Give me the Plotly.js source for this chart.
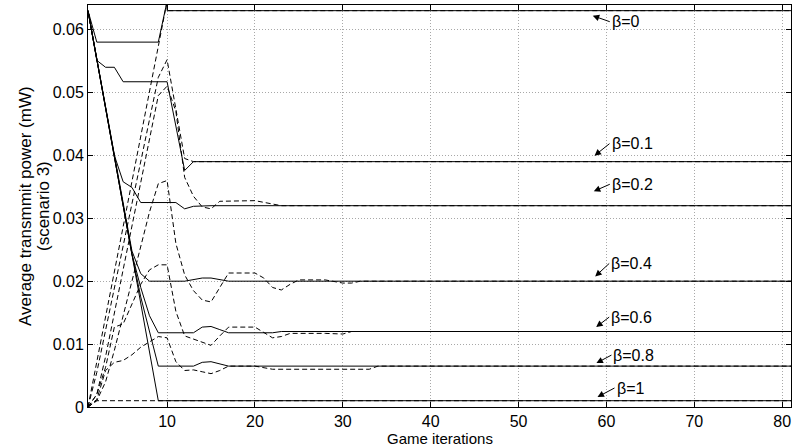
<!DOCTYPE html>
<html>
<head>
<meta charset="utf-8">
<script src="https://cdn.plot.ly/plotly-3.0.1.min.js"></script>
<style>html,body{margin:0;padding:0;background:#fff;}#chart{width:794px;height:448px;}</style>
</head>
<body>
<div id="chart"></div>
<script>
// ---- Data (Game iterations vs. average transmit power, mW) ----
const betaLabels = ['β=0', 'β=0.1', 'β=0.2', 'β=0.4', 'β=0.6', 'β=0.8', 'β=1'];

// Solid curves
const iterS0 = [1, 2, 9, 10, 10, 81];
const powS0  = [0.063, 0.058, 0.058, 0.0645, 0.063, 0.063];
const iterS1 = [1, 2, 3, 4, 5, 10, 12, 13, 81];
const powS1  = [0.063, 0.0551, 0.054, 0.054, 0.0517, 0.0517, 0.0376, 0.039, 0.039];
const iterS2 = [1, 2, 3, 4, 5, 6, 7, 11, 12, 13, 15, 81];
const powS2  = [0.063, 0.0553, 0.0475, 0.040, 0.0358, 0.0349, 0.0325, 0.0325, 0.0315, 0.0319, 0.032, 0.032];
const iterS4 = [1, 2, 3, 4, 5, 6, 7, 8, 12, 13, 14, 15, 16, 17, 81];
const powS4  = [0.063, 0.0553, 0.0475, 0.0398, 0.032, 0.0248, 0.0212, 0.020, 0.020, 0.0203, 0.0205, 0.0205, 0.0202, 0.020, 0.020];
const iterS6 = [1, 2, 3, 4, 5, 6, 7, 8, 9, 13, 14, 15, 16, 17, 22, 23, 81];
const powS6  = [0.063, 0.0553, 0.0475, 0.0398, 0.032, 0.0243, 0.019, 0.0145, 0.0118, 0.0118, 0.0127, 0.0128, 0.0123, 0.0118, 0.0118, 0.012, 0.012];
const iterS8 = [1, 2, 3, 4, 5, 6, 7, 8, 9, 13, 14, 15, 16, 17, 81];
const powS8  = [0.063, 0.0553, 0.0475, 0.0398, 0.032, 0.0243, 0.0175, 0.012, 0.0065, 0.0065, 0.0071, 0.0072, 0.0068, 0.0065, 0.0065];
const iterS10 = [1, 2, 3, 4, 5, 6, 7, 8, 9, 81];
const powS10  = [0.063, 0.0553, 0.0475, 0.0398, 0.032, 0.0243, 0.0165, 0.0088, 0.001, 0.001];

// Dashed curves
const iterD0 = [1, 2, 3, 4, 5, 6, 7, 8, 9, 10, 10, 81];
const powD0  = [0, 0.0072, 0.0144, 0.0216, 0.0288, 0.036, 0.0432, 0.0504, 0.0576, 0.0645, 0.063, 0.063];
const iterD1 = [1, 2, 3, 4, 5, 6, 7, 8, 9, 10, 11, 12, 13, 81];
const powD1  = [0, 0.0055, 0.0122, 0.0189, 0.0256, 0.0323, 0.039, 0.0457, 0.0524, 0.0552, 0.0475, 0.0395, 0.039, 0.039];
const iterD2 = [1, 2, 3, 4, 5, 6, 7, 8, 9, 10, 11, 12, 13, 14, 15, 16, 20, 23, 81];
const powD2  = [0, 0.002, 0.008, 0.015, 0.022, 0.029, 0.036, 0.043, 0.0495, 0.051, 0.047, 0.0365, 0.0335, 0.0318, 0.0315, 0.0327, 0.0328, 0.032, 0.032];
const iterD4 = [1, 2, 3, 4, 5, 6, 7, 8, 9, 10, 11, 12, 13, 14, 15, 16, 17, 20, 21, 22, 23, 24, 25, 28, 30, 31, 32, 81];
const powD4  = [0, 0.001, 0.004, 0.009, 0.0145, 0.02, 0.0255, 0.031, 0.0355, 0.036, 0.026, 0.021, 0.0185, 0.017, 0.0167, 0.019, 0.0213, 0.0213, 0.0205, 0.019, 0.0186, 0.0195, 0.0202, 0.0202, 0.0197, 0.0197, 0.020, 0.020];
const iterD6 = [1, 2, 3, 4, 5, 6, 7, 8, 9, 10, 11, 12, 13, 14, 15, 16, 17, 20, 21, 22, 23, 24, 28, 29, 30, 31, 81];
const powD6  = [0, 0.002, 0.0063, 0.0127, 0.0132, 0.0165, 0.0195, 0.0218, 0.0226, 0.0226, 0.0152, 0.0113, 0.0108, 0.0103, 0.0098, 0.0113, 0.0127, 0.0127, 0.0118, 0.011, 0.0112, 0.0117, 0.0117, 0.0116, 0.0116, 0.012, 0.012];
const iterD8 = [1, 2, 3, 4, 5, 6, 7, 8, 9, 10, 11, 12, 13, 14, 15, 16, 17, 20, 21, 22, 33, 34, 81];
const powD8  = [0, 0.0012, 0.0058, 0.0071, 0.0074, 0.0083, 0.0095, 0.0104, 0.0112, 0.011, 0.0072, 0.0058, 0.0059, 0.0056, 0.0053, 0.0058, 0.0065, 0.0065, 0.0062, 0.006, 0.006, 0.0065, 0.0065];
const iterD10 = [1, 2, 81];
const powD10  = [0, 0.001, 0.001];

// Tick labels and titles
const xTickVals = [10, 20, 30, 40, 50, 60, 70, 80];
const xTickText = ['10', '20', '30', '40', '50', '60', '70', '80'];
const yTickVals = [0, 0.01, 0.02, 0.03, 0.04, 0.05, 0.06];
const yTickText = ['0', '0.01', '0.02', '0.03', '0.04', '0.05', '0.06'];
const xTitle = 'Game iterations';
const yTitleLines = ['Average transmmit power (mW)', '(scenario 3)'];

// Annotation arrow heads (data coords)
const labelIter = [58.44, 58.64, 58.56, 58.72, 58.83, 58.86, 58.98];
const labelPow  = [0.0622, 0.03995, 0.03429, 0.02075, 0.0127, 0.00698, 0.00159];

// ---- Build chart ----
const FONT = 'Liberation Sans, Arial, sans-serif';
const solidSets = [[iterS0, powS0], [iterS1, powS1], [iterS2, powS2], [iterS4, powS4], [iterS6, powS6], [iterS8, powS8], [iterS10, powS10]];
const dashSets  = [[iterD0, powD0], [iterD1, powD1], [iterD2, powD2], [iterD4, powD4], [iterD6, powD6], [iterD8, powD8], [iterD10, powD10]];

const traces = [];
dashSets.forEach((s, i) => traces.push({
  x: s[0], y: s[1], type: 'scatter', mode: 'lines', name: betaLabels[i] + ' dashed',
  line: {color: '#000', width: 1, dash: '5px,3px'}, hoverinfo: 'skip'
}));
solidSets.forEach((s, i) => traces.push({
  x: s[0], y: s[1], type: 'scatter', mode: 'lines', name: betaLabels[i],
  line: {color: '#000', width: 1}, hoverinfo: 'skip'
}));

const tailOffsets = [[17, 6], [15, -12], [16, -7], [14, -13], [13, -10], [15, -8], [17, -9]];
const annotations = betaLabels.map((t, i) => ({
  x: labelIter[i], y: labelPow[i], xref: 'x', yref: 'y',
  text: t, showarrow: true, arrowhead: 2, arrowsize: 1.3, arrowwidth: 1, arrowcolor: '#000',
  ax: tailOffsets[i][0], ay: tailOffsets[i][1], xanchor: 'left', yanchor: 'middle',
  font: {family: FONT, size: 16, color: '#000'}
}));
// Axis titles placed as annotations for exact positioning
annotations.push({
  xref: 'paper', yref: 'paper', x: 0.5, y: 0, yshift: -41, xanchor: 'center', yanchor: 'bottom',
  borderpad: 0, text: xTitle, showarrow: false, font: {family: FONT, size: 15, color: '#000'}
});
const yTitleShift = [-63, -45];
yTitleLines.forEach((t, i) => annotations.push({
  xref: 'paper', yref: 'paper', x: 0, y: 0.5, xshift: yTitleShift[i], xanchor: 'center', yanchor: 'middle',
  text: t, textangle: -90, showarrow: false, font: {family: FONT, size: 17, color: '#000'}
}));

const axisCommon = {
  showline: true, linecolor: '#000', linewidth: 1, mirror: 'ticks',
  ticks: 'inside', ticklen: 5, tickcolor: '#000', tickwidth: 1,
  showgrid: true, gridcolor: '#a8a8a8', griddash: '1px,2px', gridwidth: 1,
  zeroline: false, automargin: false,
  tickfont: {family: FONT, size: 16, color: '#000'}
};

const layout = {
  width: 794, height: 448,
  margin: {l: 88, r: 3, t: 5, b: 41},
  paper_bgcolor: '#fff', plot_bgcolor: '#fff',
  showlegend: false,
  xaxis: Object.assign({}, axisCommon, {
    range: [1, 81], tickmode: 'array', tickvals: xTickVals, ticktext: xTickText
  }),
  yaxis: Object.assign({}, axisCommon, {
    range: [0, 0.0639], tickmode: 'array', tickvals: yTickVals, ticktext: yTickText
  }),
  annotations: annotations
};

Plotly.newPlot('chart', traces, layout, {displayModeBar: false, staticPlot: true});
</script>
</body>
</html>
